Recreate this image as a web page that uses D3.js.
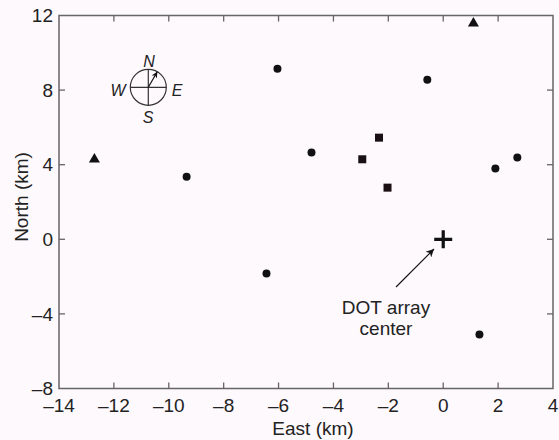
<!DOCTYPE html>
<html><head><meta charset="utf-8">
<script src="https://cdn.jsdelivr.net/npm/d3@7"></script>
<style>
html,body{margin:0;padding:0;background:#fdf9fd;}
svg{display:block;font-family:"Liberation Sans",Arial,Helvetica,sans-serif;}
</style></head>
<body>
<svg id="c" width="559" height="440"></svg>
<script>
const xTicks = [-14,-12,-10,-8,-6,-4,-2,0,2,4];
const yTicks = [-8,-4,0,4,8,12];
const circles = [[-9.35,3.36],[-6.04,9.15],[-6.44,-1.84],[-4.8,4.65],[-0.58,8.56],[1.9,3.79],[2.7,4.38],[1.32,-5.11]];
const triangles = [[-12.71,4.33],[1.1,11.62]];
const squares = [[-2.34,5.45],[-2.95,4.29],[-2.03,2.77]];
const center = [[0,0]];
const labels = {x:"East (km)", y:"North (km)", note:["DOT array","center"], compass:["N","E","S","W"]};

const svg = d3.select("#c");
const L=59, R=553, T=15.5, B=388.5;
const x = d3.scaleLinear().domain([-14,4]).range([L,R]);
const y = d3.scaleLinear().domain([-8,12]).range([B,T]);
const fmt = d => d<0 ? "\u2013"+Math.abs(d) : String(d);
const frame = "#666";

// frame
svg.append("rect").attr("x",L).attr("y",T).attr("width",R-L).attr("height",B-T)
  .attr("fill","none").attr("stroke",frame).attr("stroke-width",1.5);

const tl=6;
const g = svg.append("g").attr("stroke",frame).attr("stroke-width",1.3);
xTicks.slice(1,-1).forEach(t=>{
  g.append("line").attr("x1",x(t)).attr("x2",x(t)).attr("y1",B).attr("y2",B-tl);
  g.append("line").attr("x1",x(t)).attr("x2",x(t)).attr("y1",T).attr("y2",T+tl);
});
yTicks.slice(1,-1).forEach(t=>{
  g.append("line").attr("x1",L).attr("x2",L+tl).attr("y1",y(t)).attr("y2",y(t));
  g.append("line").attr("x1",R).attr("x2",R-tl).attr("y1",y(t)).attr("y2",y(t));
});

const fs = 19;
svg.append("g").selectAll("text").data(xTicks).join("text")
  .attr("x",d=>x(d)).attr("y",412).attr("text-anchor","middle")
  .attr("font-size",fs).attr("fill","#222").text(fmt);
svg.append("g").selectAll("text").data(yTicks).join("text")
  .attr("x",53).attr("y",d=>y(d)).attr("dy","0.35em").attr("text-anchor","end")
  .attr("font-size",fs).attr("fill","#222").text(fmt);

svg.append("text").attr("x",313).attr("y",435).attr("text-anchor","middle")
  .attr("font-size",fs).attr("fill","#222").text(labels.x);
svg.append("text").attr("transform","translate(28,197) rotate(-90)").attr("text-anchor","middle")
  .attr("font-size",fs).attr("fill","#222").text(labels.y);

// markers
const ink="#111";
svg.append("g").selectAll("circle").data(circles).join("circle")
  .attr("cx",d=>x(d[0])).attr("cy",d=>y(d[1])).attr("r",4).attr("fill",ink);
svg.append("g").selectAll("rect").data(squares).join("rect")
  .attr("x",d=>x(d[0])-4).attr("y",d=>y(d[1])-4).attr("width",8).attr("height",8).attr("fill","#1a1014");
svg.append("g").selectAll("path").data(triangles).join("path")
  .attr("transform",d=>`translate(${x(d[0])},${y(d[1])})`)
  .attr("d","M0,-5.5L5.5,4L-5.5,4Z").attr("fill",ink);
svg.append("g").selectAll("path").data(center).join("path")
  .attr("transform",d=>`translate(${x(d[0])},${y(d[1])})`)
  .attr("d","M-9,0H9M0,-9V9").attr("stroke",ink).attr("stroke-width",3.2).attr("fill","none");

// annotation arrow
const ax0=396, ay0=287, ax1=434, ay1=249;
svg.append("defs").append("marker").attr("id","ah").attr("viewBox","0 0 10 10")
  .attr("refX",10).attr("refY",5).attr("markerWidth",16).attr("markerHeight",8)
  .attr("markerUnits","userSpaceOnUse").attr("orient","auto")
  .append("path").attr("d","M0,0L10,5L0,10L3,5Z").attr("fill",ink);
svg.append("line").attr("x1",ax0).attr("y1",ay0).attr("x2",ax1).attr("y2",ay1)
  .attr("stroke",ink).attr("stroke-width",1.1).attr("marker-end","url(#ah)");
svg.append("text").attr("x",386).attr("y",314).attr("text-anchor","middle")
  .attr("font-size",fs).attr("fill","#222").text(labels.note[0]);
svg.append("text").attr("x",386).attr("y",335).attr("text-anchor","middle")
  .attr("font-size",fs).attr("fill","#222").text(labels.note[1]);

// compass
const cx=148.3, cy=87.3, cr=18;
const cg = svg.append("g").attr("stroke","#333").attr("stroke-width",1.2).attr("fill","none");
cg.append("circle").attr("cx",cx).attr("cy",cy).attr("r",cr);
cg.append("line").attr("x1",cx-cr).attr("x2",cx+cr).attr("y1",cy).attr("y2",cy);
cg.append("line").attr("x1",cx).attr("x2",cx).attr("y1",cy-cr).attr("y2",cy+cr);
svg.append("defs").append("marker").attr("id","ah2").attr("viewBox","0 0 10 10")
  .attr("refX",10).attr("refY",5).attr("markerWidth",9).attr("markerHeight",6)
  .attr("markerUnits","userSpaceOnUse").attr("orient","auto")
  .append("path").attr("d","M0,0L10,5L0,10L3,5Z").attr("fill","#111");
svg.append("line").attr("x1",cx).attr("y1",cy).attr("x2",cx+9).attr("y2",cy-15.5)
  .attr("stroke","#111").attr("stroke-width",1.2).attr("marker-end","url(#ah2)");
const cl = [[labels.compass[0],149,61.7],[labels.compass[1],177,90],[labels.compass[2],148,117],[labels.compass[3],118,90]];
svg.append("g").selectAll("text").data(cl).join("text")
  .attr("x",d=>d[1]).attr("y",d=>d[2]).attr("dy","0.36em").attr("text-anchor","middle")
  .attr("font-size",16).attr("font-style","italic").attr("fill","#222").text(d=>d[0]);
</script>
</body></html>
